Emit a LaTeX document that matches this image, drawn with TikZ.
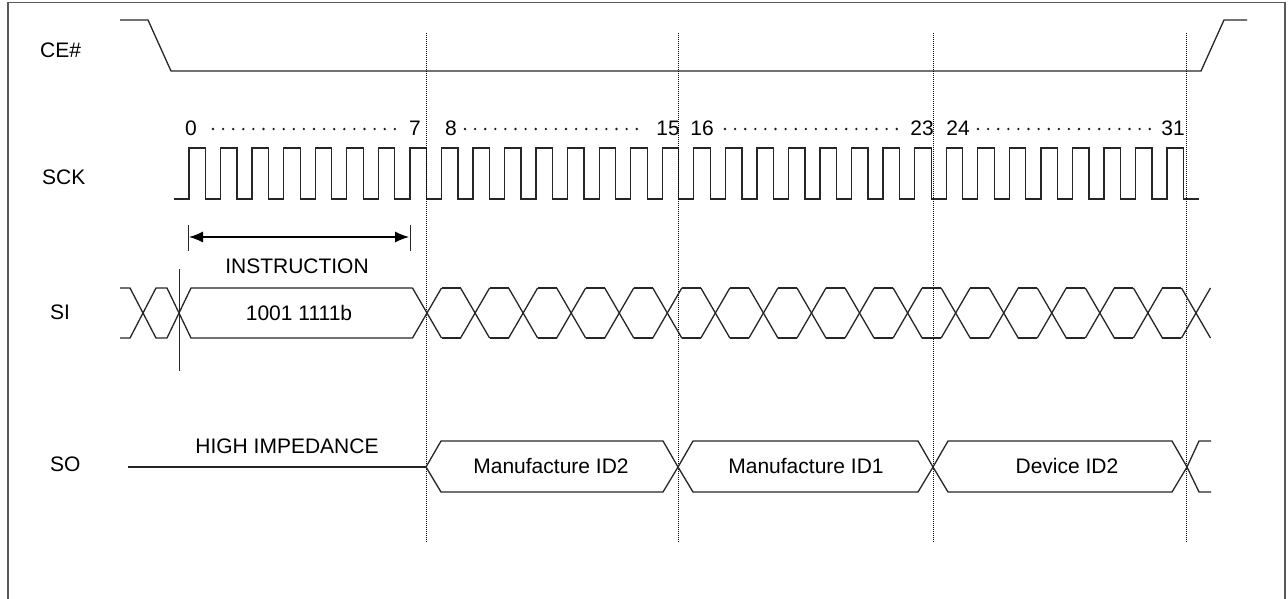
\documentclass[tikz,border=0pt]{standalone}
\usepackage{fontspec}
\setmainfont{Liberation Sans}
\usetikzlibrary{arrows.meta}
\begin{document}
\begin{tikzpicture}[x=1pt,y=-1pt,
  wave/.style={line width=1.3pt, draw=black!85, line join=miter},
  guide/.style={line width=1pt, draw=black, dash pattern=on 1pt off 1pt},
  countdots/.style={line width=2.6pt, line cap=round, draw=black!90, dash pattern=on 0pt off 10.1pt},
  lbl/.style={font=\fontsize{21}{24}\selectfont, inner sep=0pt},
  frame/.style={line width=1.5pt, draw=black!65},
  tick/.style={line width=1pt, draw=black!85},
  dim/.style={line width=1.2pt, draw=black, {Latex[length=14pt,width=11pt]}-{Latex[length=14pt,width=11pt]}}]

\useasboundingbox (0,0) rectangle (1288,598);
\draw[frame] (8,604) -- (8,2.5) -- (1285,2.5) -- (1285,604);

% signal labels
\node[lbl, anchor=west] (ce)  at (40,50)  {CE\#};
\node[lbl, anchor=west] (sck) at (42,177) {SCK};
\node[lbl, anchor=west] (si)  at (50,312) {SI};
\node[lbl, anchor=west] (so)  at (50,464) {SO};

% CE#
\draw[wave] (120,20) -- (148,20) -- (171,71) -- (1201,71) -- (1224,20) -- (1247,20);

% SCK
\draw[wave] (174,199) foreach \k in {0,...,31}{
  -- ({189+31.55*\k},199) -- ({189+31.55*\k},148) -- ({205.5+31.55*\k},148) -- ({205.5+31.55*\k},199)}
  -- (1199,199);

% guide lines
\foreach \gx in {426,678,933,1186} \draw[guide] (\gx,33) -- (\gx,542);

% clock counts
\node[lbl] (n0)  at (191,128)  {0};
\node[lbl] (n7)  at (415,128)  {7};
\node[lbl] (n8)  at (451,128)  {8};
\node[lbl] (n15) at (668,128)  {15};
\node[lbl] (n16) at (702,128)  {16};
\node[lbl] (n23) at (922,128)  {23};
\node[lbl] (n24) at (958,128)  {24};
\node[lbl] (n31) at (1173,128) {31};
\draw[countdots] (213,129) -- (397,129);
\draw[countdots] (465,129) -- (642,129);
\draw[countdots] (725,129) -- (902,129);
\draw[countdots] (978,129) -- (1154,129);

% instruction dimension
\draw[tick] (188,225) -- (188,251);
\draw[tick] (410,225) -- (410,251);
\coordinate (ia) at (189,237);
\coordinate (ib) at (409,237);
\draw[dim] (ia) -- (ib);
\node[lbl] (instr) at (297,266) {INSTRUCTION};

% SI bus
\draw[wave] (120,288) -- (130,288) -- (156,338) -- (167,338) -- (191,288) -- (412.5,288);
\draw[wave] (120,338) -- (130,338) -- (156,288) -- (167,288) -- (191,338) -- (412.5,338);
\draw[tick] (179,269) -- (179,371);
\foreach \i in {0,...,16}{
  \draw[wave] ({427+48.06*\i-14.5},288) -- ({427+48.06*\i+14.5},338);
  \draw[wave] ({427+48.06*\i-14.5},338) -- ({427+48.06*\i+14.5},288);
}
\foreach \i in {0,...,15}{
  \draw[wave] ({427+48.06*\i+14.5},288) -- ({427+48.06*(\i+1)-14.5},288);
  \draw[wave] ({427+48.06*\i+14.5},338) -- ({427+48.06*(\i+1)-14.5},338);
}
\node[lbl] (instval) at (299,313) {1001 1111b};

% SO
\draw[wave] (128,467) -- (426,467);
\node[lbl] (hiz) at (287,446) {HIGH IMPEDANCE};
\foreach \a/\b in {426/678, 678/933, 933/1187}{
  \draw[wave] (\a,467) -- ({\a+15},441) -- ({\b-15},441) -- (\b,467) -- ({\b-15},492) -- ({\a+15},492) -- cycle;
}
\draw[wave] (1211,441) -- (1199,441) -- (1187,467) -- (1199,492) -- (1211,492);
\node[lbl] (mid2) at (551,466)  {Manufacture ID2};
\node[lbl] (mid1) at (806,466)  {Manufacture ID1};
\node[lbl] (did2) at (1067,466) {Device ID2};
\end{tikzpicture}
\end{document}
